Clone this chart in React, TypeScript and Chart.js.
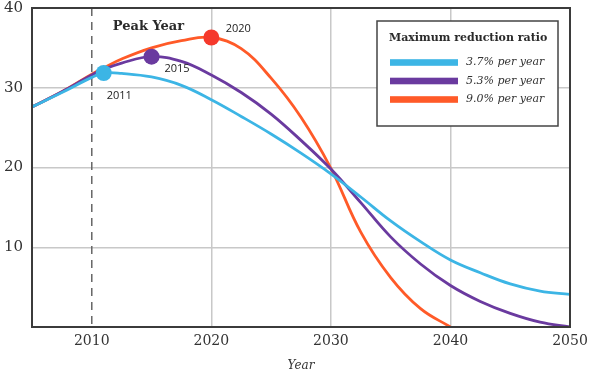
import React, { useEffect, useRef } from 'react';
import { Chart, registerables } from 'chart.js';

Chart.register(...registerables);

// ---- data ----
const years = [2005, 2007.5, 2010, 2011, 2012.5, 2015, 2017.5, 2020, 2022.5, 2025, 2027.5, 2030, 2032.5, 2035, 2037.5, 2040, 2042.5, 2045, 2047.5, 2050];
const rate37 = [27.6, 29.4, 31.3, 31.85, 31.8, 31.35, 30.3, 28.5, 26.4, 24.2, 21.8, 19.2, 16.3, 13.3, 10.7, 8.4, 6.8, 5.4, 4.5, 4.1];
const rate53 = [27.6, 29.5, 31.6, 32.3, 33.1, 33.9, 33.3, 31.6, 29.4, 26.7, 23.4, 19.8, 15.6, 11.3, 7.9, 5.2, 3.2, 1.7, 0.6, 0];
const rate90 = [27.6, 29.5, 31.7, 32.5, 33.6, 35.0, 35.9, 36.3, 34.9, 31.2, 26.3, 19.9, 11.9, 6.2, 2.3, 0, null, null, null, null];

const seriesLabels = ['3.7% per year', '5.3% per year', '9.0% per year'];
const peakYears = [2011, 2015, 2020];
const peakLabels = ['2011', '2015', '2020'];
const xTicks = [2010, 2020, 2030, 2040, 2050];
const yTicks = [10, 20, 30, 40];
const dashedYear = 2010;
const legendTitle = 'Maximum reduction ratio';
const peakTitle = 'Peak Year';
const xTitle = 'Year';

const lineColors = ['#3cb5e5', '#6a3a9f', '#ff5a28'];
const markerColors = ['#3cb5e5', '#6a3a9f', '#f5392c'];

const SERIF = "'DejaVu Serif', serif";
const SANS = "'Open Sans', 'DejaVu Sans', sans-serif";

function toPoints(vals: (number | null)[]) {
  return years.map((yr, i) => ({ x: yr, y: vals[i] }));
}

const overlay = {
  id: 'overlay',
  beforeDatasetsDraw(chart: any) {
    const { ctx, chartArea: a, scales } = chart;
    const px = scales.x.getPixelForValue(dashedYear);
    ctx.save();
    ctx.strokeStyle = '#666';
    ctx.lineWidth = 1.5;
    ctx.setLineDash([8, 6]);
    ctx.beginPath();
    ctx.moveTo(px, a.top);
    ctx.lineTo(px, a.bottom);
    ctx.stroke();
    ctx.restore();
  },
  afterDatasetsDraw(chart: any) {
    const { ctx, chartArea: a, scales } = chart;
    const xs = scales.x;
    const ys = scales.y;
    ctx.save();
    // frame
    ctx.strokeStyle = '#3b3b3b';
    ctx.lineWidth = 2;
    ctx.strokeRect(a.left, a.top, a.right - a.left, a.bottom - a.top);

    // peak labels
    const series = [rate37, rate53, rate90];
    const offs = [[15.5, 22.5], [25.5, 12.5], [27, -8.5]];
    ctx.fillStyle = '#222';
    ctx.font = `11px ${SANS}`;
    ctx.textAlign = 'center';
    ctx.textBaseline = 'middle';
    peakYears.forEach((yr, i) => {
      const idx = years.indexOf(yr);
      const v = series[i][idx] as number;
      const px = xs.getPixelForValue(yr);
      const py = ys.getPixelForValue(v);
      ctx.fillText(peakLabels[i], px + offs[i][0], py + offs[i][1]);
    });

    // Peak Year title
    ctx.font = `bold 13px ${SERIF}`;
    ctx.fillStyle = '#2a2a2a';
    ctx.textAlign = 'left';
    ctx.fillText(peakTitle, xs.getPixelForValue(dashedYear) + 21, a.top + 19);

    // legend box
    const bx = a.right - 193;
    const by = a.top + 13;
    const bw = 181;
    const bh = 105;
    ctx.fillStyle = '#ffffff';
    ctx.fillRect(bx, by, bw, bh);
    ctx.strokeStyle = '#444';
    ctx.lineWidth = 1.5;
    ctx.strokeRect(bx, by, bw, bh);
    ctx.fillStyle = '#2a2a2a';
    ctx.font = `bold 11px ${SERIF}`;
    ctx.textAlign = 'left';
    ctx.fillText(legendTitle, bx + 12, by + 17.5);
    ctx.font = `italic 11px ${SERIF}`;
    seriesLabels.forEach((lab, i) => {
      const cy = by + 41.5 + i * 18.5;
      ctx.fillStyle = lineColors[i];
      ctx.fillRect(bx + 13, cy - 3.3, 68, 6.6);
      ctx.fillStyle = '#333';
      ctx.fillText(lab, bx + 89, cy);
    });
    ctx.restore();
  },
};

export default function App() {
  const ref = useRef<HTMLCanvasElement | null>(null);
  useEffect(() => {
    document.body.style.margin = '0';
    const canvas = ref.current;
    if (!canvas) return;
    const allSeries = [rate37, rate53, rate90];
    const chart = new Chart(canvas, {
      type: 'line',
      data: {
        datasets: allSeries.map((vals, i) => ({
          label: seriesLabels[i],
          data: toPoints(vals),
          borderColor: lineColors[i],
          backgroundColor: markerColors[i],
          borderWidth: 2.8,
          tension: 0.4,
          fill: false,
          spanGaps: false,
          pointRadius: years.map((yr) => (yr === peakYears[i] ? 8 : 0)),
          pointHoverRadius: years.map((yr) => (yr === peakYears[i] ? 8 : 0)),
          pointBackgroundColor: markerColors[i],
          pointBorderWidth: 0,
        })),
      } as any,
      options: {
        animation: false,
        responsive: false,
        devicePixelRatio: 1,
        layout: { padding: { top: 0, right: 24, left: 0, bottom: 0 } },
        plugins: {
          legend: { display: false },
          tooltip: { enabled: false },
        },
        scales: {
          x: {
            type: 'linear',
            min: 2005,
            max: 2050,
            afterBuildTicks: (s: any) => {
              s.ticks = xTicks.map((v) => ({ value: v }));
            },
            afterFit: (s: any) => {
              s.height = 57;
            },
            grid: {
              color: (c: any) => (c.tick && c.tick.value === dashedYear ? 'rgba(0,0,0,0)' : '#c8c8c8'),
              lineWidth: 1.5,
              drawTicks: false,
            },
            border: { display: false },
            ticks: {
              padding: 6,
              color: '#333',
              font: { family: SERIF, size: 14 },
              maxRotation: 0,
              callback: (v: any) => String(v),
            },
            title: {
              display: true,
              text: xTitle,
              color: '#333',
              font: { family: SERIF, size: 12, style: 'italic' },
              padding: { top: 0, bottom: 11 },
            },
          },
          y: {
            min: 0,
            max: 40,
            afterBuildTicks: (s: any) => {
              s.ticks = yTicks.map((v) => ({ value: v }));
            },
            afterFit: (s: any) => {
              s.width = 32;
              s.paddingTop = 8;
              s.paddingBottom = 0;
            },
            grid: { color: '#c8c8c8', lineWidth: 1.5, drawTicks: false },
            border: { display: false },
            ticks: {
              padding: 9,
              color: '#333',
              font: { family: SERIF, size: 15 },
              callback: (v: any) => String(v),
            },
          },
        },
      } as any,
      plugins: [overlay],
    });
    return () => chart.destroy();
  }, []);
  return (
    <div style={{ position: 'absolute', left: 0, top: 0, width: 594, height: 384 }}>
      <canvas ref={ref} width={594} height={384} style={{ width: 594, height: 384 }} />
    </div>
  );
}
